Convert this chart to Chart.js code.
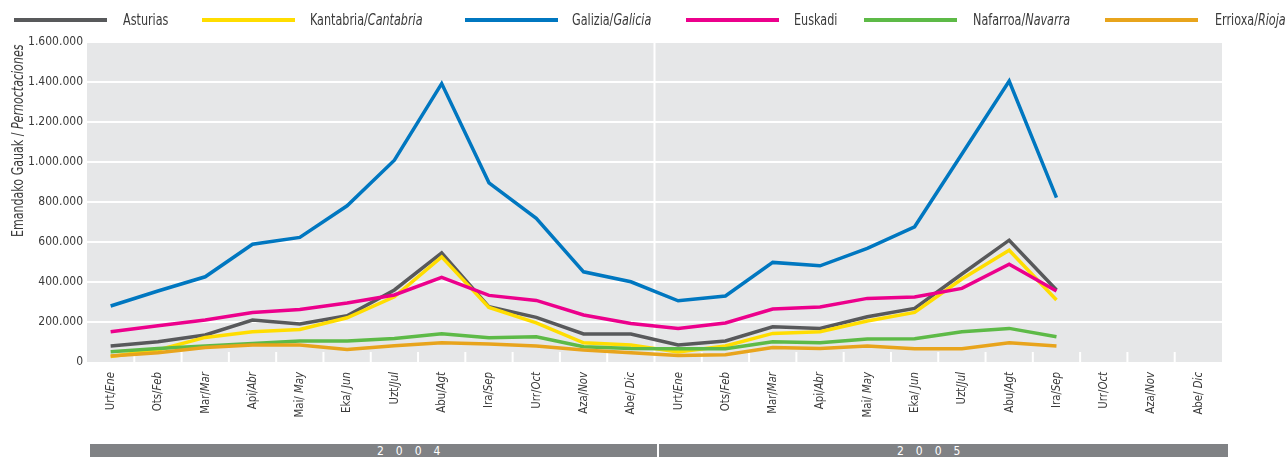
<!DOCTYPE html>
<html>
<head>
<meta charset="utf-8">
<script src="https://cdn.jsdelivr.net/npm/chart.js@4.4.1/dist/chart.umd.min.js"></script>
<style>
  html, body { margin: 0; padding: 0; background: #fff; }
  #wrap { position: relative; width: 1288px; height: 457px; overflow: hidden; font-family: "Liberation Sans Narrow", "DejaVu Sans Condensed", "Roboto Condensed", sans-serif; color: #3a3a3a; }
  #c { position: absolute; left: 0; top: 0; }
  .swatch { position: absolute; top: 18px; width: 93px; height: 4px; }
  .ltext { position: absolute; top: 11px; height: 18px; line-height: 18px; font-size: 15px; white-space: nowrap; transform-origin: 0 50%; transform: scaleX(0.83); }
  #ytitle { position: absolute; left: 9px; top: 237px; height: 18px; line-height: 18px; font-size: 15px; white-space: nowrap; transform-origin: 0 0; transform: rotate(-90deg) scaleX(0.82); }
  #band { position: absolute; left: 90px; top: 444px; width: 1138px; height: 13px; background: #808285; }
  #band .div { position: absolute; left: 567px; top: 0; width: 2px; height: 13px; background: #fff; }
  #band .yr { position: absolute; top: 1px; font-size: 12px; line-height: 12px; color: #fff; letter-spacing: 12px; white-space: nowrap; }
</style>
</head>
<body>
<div id="wrap">
  <canvas id="c" width="1288" height="457"></canvas>
  <div id="legend"></div>
  <div id="ytitle">Emandako Gauak / <i>Pernoctaciones</i></div>
  <div id="band"><div class="div"></div><div class="yr" id="y1"></div><div class="yr" id="y2"></div></div>
</div>
<script>
// ---- data ----
const monthsEu = ['Urt','Ots','Mar','Api','Mai','Eka','Uzt','Abu','Ira','Urr','Aza','Abe'];
const monthsEs = ['Ene','Feb','Mar','Abr',' May',' Jun','Jul','Agt','Sep','Oct','Nov',' Dic'];
const years = ['2004','2005'];
const yTicks = [0,200000,400000,600000,800000,1000000,1200000,1400000,1600000];

const seriesNames = [['Asturias',''],['Kantabria/','Cantabria'],['Galizia/','Galicia'],['Euskadi',''],['Nafarroa/','Navarra'],['Errioxa/','Rioja']];
const seriesColors = ['#58595b','#ffdd00','#0077c0','#ec008c','#5dba47','#e8a41c'];

const asturias  = [80000,101000,135000,210000,190000,231000,360000,546000,276000,223000,140000,140000, 85000,105000,176000,168000,226000,268000,440000,609000,360000,null,null,null];
const cantabria = [27000,60000,123000,151000,163000,221000,326000,526000,273000,196000,96000,85000, 50000,80000,143000,151000,205000,248000,415000,559000,310000,null,null,null];
const galicia   = [280000,355000,426000,589000,623000,781000,1009000,1392000,896000,718000,451000,401000, 306000,330000,498000,481000,568000,676000,1040000,1405000,822000,null,null,null];
const euskadi   = [151000,181000,210000,248000,263000,295000,335000,423000,333000,308000,235000,193000, 168000,195000,265000,275000,318000,325000,368000,489000,355000,null,null,null];
const navarra   = [51000,68000,80000,93000,105000,105000,118000,141000,121000,126000,76000,68000, 66000,66000,101000,96000,115000,116000,151000,168000,126000,null,null,null];
const rioja     = [30000,46000,73000,85000,85000,63000,81000,96000,90000,80000,60000,46000, 33000,36000,73000,68000,80000,66000,66000,96000,80000,null,null,null];

const allSeries = [asturias, cantabria, galicia, euskadi, navarra, rioja];

// ---- build ----
const labelsEu = [], labelsEs = [];
years.forEach(() => { monthsEu.forEach(m => labelsEu.push(m + '/')); monthsEs.forEach(m => labelsEs.push(m)); });
const labels = labelsEu.map((a, i) => a + labelsEs[i]);

const FONT = '"Liberation Sans Narrow", "DejaVu Sans Condensed", "Roboto Condensed", sans-serif';

// legend (HTML, mixed italic)
const legendLineX = [14, 202, 465, 686, 864, 1105];
const legendTextX = [123, 310, 572, 794, 973, 1215];
const lg = document.getElementById('legend');
seriesNames.forEach((n, i) => {
  const sw = document.createElement('span'); sw.className = 'swatch';
  sw.style.background = seriesColors[i]; sw.style.left = legendLineX[i] + 'px';
  const tx = document.createElement('span'); tx.className = 'ltext'; tx.style.left = legendTextX[i] + 'px';
  tx.appendChild(document.createTextNode(n[0]));
  if (n[1]) { const em = document.createElement('i'); em.textContent = n[1]; tx.appendChild(em); }
  lg.appendChild(sw); lg.appendChild(tx);
});
const y1 = document.getElementById('y1'); y1.textContent = years[0]; y1.style.left = '287px';
const y2 = document.getElementById('y2'); y2.textContent = years[1]; y2.style.left = '807px';

function fmt(v) { return String(v).replace(/\B(?=(\d{3})+(?!\d))/g, '.'); }

const decor = {
  id: 'decor',
  beforeDraw(chart) {
    const { ctx, chartArea: a } = chart;
    ctx.save(); ctx.fillStyle = '#e6e7e8';
    ctx.fillRect(a.left, a.top, a.right - a.left, a.bottom - a.top);
    ctx.restore();
  },
  beforeDatasetsDraw(chart) {
    const { ctx, chartArea: a, scales: { x } } = chart;
    const n = labels.length;
    const step = (x.getPixelForValue(1) - x.getPixelForValue(0));
    ctx.save(); ctx.strokeStyle = '#ffffff'; ctx.lineWidth = 2;
    for (let k = 1; k < n; k++) {
      const px = x.getPixelForValue(k) - step / 2;
      ctx.beginPath();
      if (k === 12) { ctx.moveTo(px, a.top); } else { ctx.moveTo(px, a.bottom - 10); }
      ctx.lineTo(px, a.bottom); ctx.stroke();
    }
    ctx.restore();
  },
  afterDraw(chart) {
    const { ctx, chartArea: a, scales: { x } } = chart;
    ctx.save();
    ctx.fillStyle = '#3a3a3a'; ctx.textBaseline = 'middle'; ctx.textAlign = 'left';
    const fN = '13px ' + FONT, fI = 'italic 13px ' + FONT;
    labels.forEach((l, i) => {
      const px = x.getPixelForValue(i);
      ctx.save();
      ctx.translate(px, a.bottom + 10);
      ctx.rotate(-Math.PI / 2);
      ctx.scale(0.87, 1);
      ctx.font = fN; const w1 = ctx.measureText(labelsEu[i]).width;
      ctx.font = fI; const w2 = ctx.measureText(labelsEs[i]).width;
      ctx.font = fN; ctx.fillText(labelsEu[i], -(w1 + w2), 0);
      ctx.font = fI; ctx.fillText(labelsEs[i], -w2, 0);
      ctx.restore();
    });
    ctx.restore();
  }
};

new Chart(document.getElementById('c'), {
  type: 'line',
  data: {
    labels: labels,
    datasets: allSeries.map((d, i) => ({
      label: seriesNames[i].join(''),
      data: d,
      borderColor: seriesColors[i],
      backgroundColor: seriesColors[i],
      borderWidth: 3.5,
      pointRadius: 0,
      tension: 0,
      spanGaps: false,
      borderJoinStyle: 'miter',
      order: allSeries.length - i
    }))
  },
  options: {
    responsive: false,
    animation: false,
    devicePixelRatio: 1,
    layout: { padding: { top: 42, right: 66, bottom: 0, left: 0 } },
    plugins: { legend: { display: false }, tooltip: { enabled: false } },
    scales: {
      x: {
        offset: true,
        ticks: { display: false },
        grid: { display: false },
        border: { display: false },
        afterFit(s) { s.height = 95; }
      },
      y: {
        min: 0, max: 1600000,
        afterBuildTicks(s) { s.ticks = yTicks.map(v => ({ value: v })); },
        ticks: { color: '#3a3a3a', font: { family: FONT, size: 12 }, padding: 4, callback: v => fmt(v) },
        grid: { color: c => (c.tick && c.tick.value === 0) ? 'rgba(0,0,0,0)' : '#ffffff', lineWidth: 2, drawTicks: false },
        border: { display: false },
        afterFit(s) { s.width = 87; }
      }
    }
  },
  plugins: [decor]
});
</script>
</body>
</html>
